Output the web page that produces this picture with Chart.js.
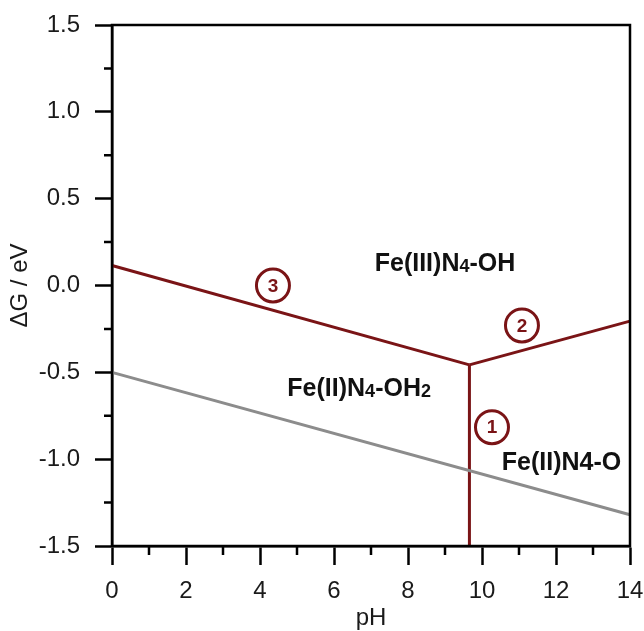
<!DOCTYPE html>
<html>
<head>
<meta charset="utf-8">
<script src="https://cdn.jsdelivr.net/npm/chart.js@4.4.1/dist/chart.umd.min.js"></script>
<style>
html,body{margin:0;padding:0;background:#fff;}
#wrap{width:644px;height:631px;position:relative;}
</style>
</head>
<body>
<div id="wrap"><canvas id="c" width="644" height="631"></canvas></div>
<script>
// ---- data ----
const xTicks = [0, 2, 4, 6, 8, 10, 12, 14];
const yTicks = [-1.5, -1.0, -0.5, 0.0, 0.5, 1.0, 1.5];

const pH_grey  = [0, 14];
const dG_grey  = [-0.50, -1.32];
const pH_line3 = [0, 9.66];
const dG_line3 = [0.115, -0.457];
const pH_line2 = [9.66, 14];
const dG_line2 = [-0.457, -0.205];
const pH_line1 = [9.66, 9.66];
const dG_line1 = [-0.457, -1.5];

const regionLabels = [
  {pH: 9.0, dG: 0.126, parts: [["Fe(III)N",0],["4",1],["-OH",0]]},
  {pH: 6.68, dG: -0.598, parts: [["Fe(II)N",0],["4",1],["-OH",0],["2",1]]},
  {pH: 12.15, dG: -1.02, parts: [["Fe(II)N4-O",0]]}
];
const circleLabels = [
  {pH: 4.35, dG: 0.0, text: "3"},
  {pH: 11.08, dG: -0.23, text: "2"},
  {pH: 10.27, dG: -0.816, text: "1"}
];

const RED = '#7a1416';
const GREY = '#8c8c8c';
const FONT = 'Arial, "Liberation Sans", sans-serif';

function pts(xs, ys){ return xs.map((x,i)=>({x:x, y:ys[i]})); }

const decor = {
  id: 'decor',
  beforeDatasetsDraw(chart){
    const {ctx, chartArea:a, scales:{x, y}} = chart;
    ctx.save();
    ctx.strokeStyle = '#000';
    ctx.lineWidth = 2.5;
    ctx.beginPath();
    for (let v = 1; v < 14; v += 2){
      const px = x.getPixelForValue(v);
      ctx.moveTo(px, a.bottom); ctx.lineTo(px, a.bottom + 9);
    }
    for (let v = -1.25; v < 1.5; v += 0.5){
      const py = y.getPixelForValue(v);
      ctx.moveTo(a.left, py); ctx.lineTo(a.left - 8, py);
    }
    ctx.stroke();
    ctx.restore();
  },
  afterDatasetsDraw(chart){
    const {ctx, chartArea:a, scales:{x, y}} = chart;
    ctx.save();
    ctx.strokeStyle = '#000';
    ctx.lineWidth = 2.5;
    ctx.strokeRect(a.left, a.top, a.right - a.left, a.bottom - a.top);
    ctx.fillStyle = '#111';
    ctx.textBaseline = 'middle';
    regionLabels.forEach(l => {
      const big = 'bold 25px ' + FONT, small = 'bold 18px ' + FONT;
      let w = 0;
      l.parts.forEach(p => { ctx.font = p[1] ? small : big; w += ctx.measureText(p[0]).width; });
      let cx = x.getPixelForValue(l.pH) - w/2;
      const cy = y.getPixelForValue(l.dG);
      ctx.textAlign = 'left';
      l.parts.forEach(p => {
        ctx.font = p[1] ? small : big;
        ctx.fillText(p[0], cx, cy + (p[1] ? 3 : 0));
        cx += ctx.measureText(p[0]).width;
      });
    });
    circleLabels.forEach(c => {
      const cx = x.getPixelForValue(c.pH), cy = y.getPixelForValue(c.dG);
      ctx.beginPath();
      ctx.arc(cx, cy, 16.5, 0, Math.PI*2);
      ctx.fillStyle = '#fff';
      ctx.fill();
      ctx.strokeStyle = RED;
      ctx.lineWidth = 3;
      ctx.stroke();
      ctx.fillStyle = RED;
      ctx.font = 'bold 19px ' + FONT;
      ctx.textAlign = 'center';
      ctx.textBaseline = 'middle';
      ctx.fillText(c.text, cx, cy + 1);
    });
    ctx.restore();
  }
};

const lineDs = (label, data, color) => ({
  label, data, borderColor: color, borderWidth: 3, pointRadius: 0, fill: false, tension: 0, clip: false
});

new Chart(document.getElementById('c'), {
  type: 'line',
  data: {
    datasets: [
      lineDs('grey', pts(pH_grey, dG_grey), GREY),
      lineDs('3', pts(pH_line3, dG_line3), RED),
      lineDs('2', pts(pH_line2, dG_line2), RED),
      lineDs('1', pts(pH_line1, dG_line1), RED)
    ]
  },
  options: {
    responsive: false,
    animation: false,
    layout: {padding: {left: 0, right: 14, top: 25, bottom: 0}},
    plugins: {legend: {display: false}, tooltip: {enabled: false}},
    scales: {
      x: {
        type: 'linear', min: 0, max: 14,
        afterBuildTicks: s => { s.ticks = xTicks.map(v => ({value: v})); },
        afterFit: s => { s.height = 85; s.paddingLeft = 0; s.paddingRight = 0; },
        ticks: {font: {size: 24, family: FONT}, color: '#1a1a1a', padding: 12, maxRotation: 0,
                callback: v => String(v)},
        grid: {drawOnChartArea: false, tickLength: 19, tickWidth: 2.5, tickColor: '#000'},
        border: {color: '#000', width: 2.5},
        title: {display: true, text: 'pH', font: {size: 24, family: FONT}, color: '#1a1a1a', padding: {top: 0, bottom: -2}}
      },
      y: {
        type: 'linear', min: -1.5, max: 1.5,
        afterBuildTicks: s => { s.ticks = yTicks.map(v => ({value: v})); },
        afterFit: s => { s.width = 112; s.paddingTop = 0; s.paddingBottom = 0; },
        ticks: {font: {size: 24, family: FONT}, color: '#1a1a1a', padding: 15,
                callback: v => v.toFixed(1)},
        grid: {drawOnChartArea: false, tickLength: 17, tickWidth: 2.5, tickColor: '#000'},
        border: {color: '#000', width: 2.5},
        title: {display: true, text: 'ΔG / eV', font: {size: 24, family: FONT}, color: '#1a1a1a', padding: {top: 6, bottom: 4}}
      }
    }
  },
  plugins: [decor]
});
</script>
</body>
</html>
